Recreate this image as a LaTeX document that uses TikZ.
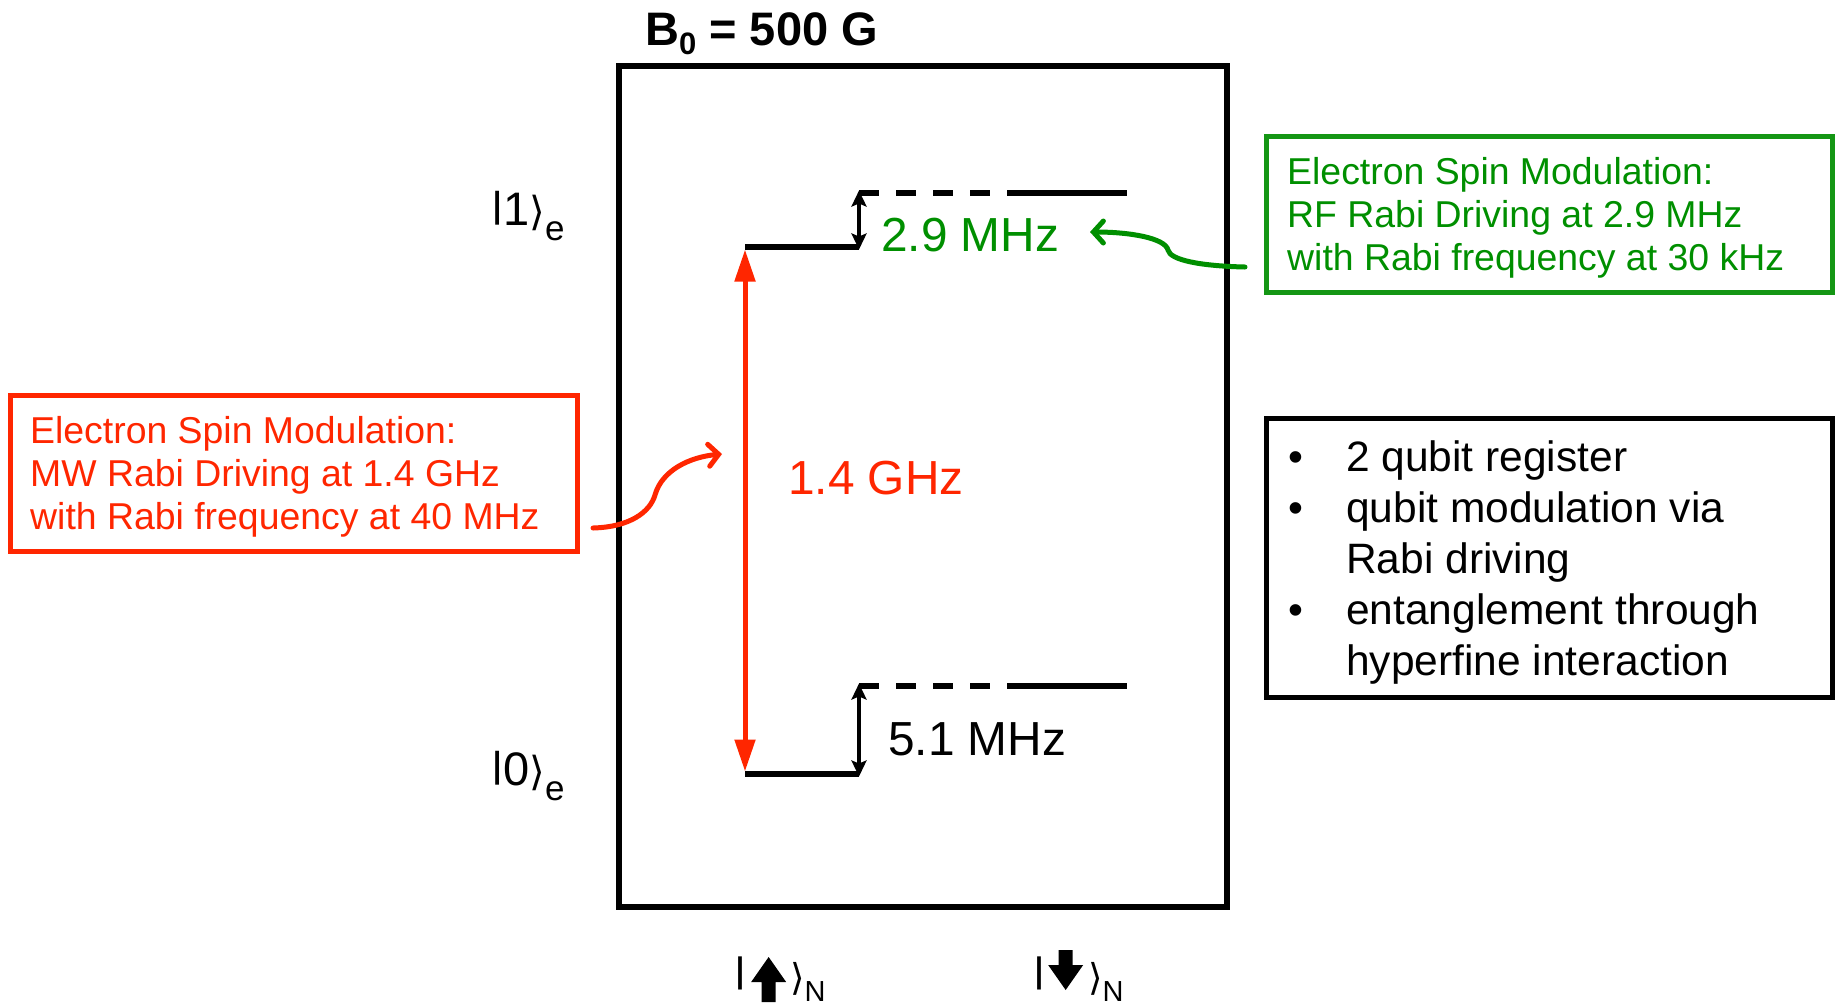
\documentclass[tikz,border=0pt]{standalone}
\usepackage{fontspec}
\setmainfont{Liberation Sans}
\newfontfamily\djv{DejaVu Sans}
\usetikzlibrary{arrows.meta,shadows}
\definecolor{myred}{RGB}{255,38,0}
\definecolor{mygreen}{RGB}{0,143,0}
\definecolor{boxgreen}{RGB}{20,150,20}
\newcommand\fatuparrow{\tikz[baseline=0pt,x=1pt,y=1pt]\fill (10.5,-12) -- (24.5,-12) -- (24.5,8) -- (35,8) -- (17.5,33) -- (0,8) -- (10.5,8) -- cycle;}
\newcommand\fatdownarrow{\tikz[baseline=0pt,x=1pt,y=1pt]\fill (10.5,40) -- (24.5,40) -- (24.5,25) -- (35,25) -- (17.5,0) -- (0,25) -- (10.5,25) -- cycle;}
\newcommand\ketbar{\raisebox{0.16em}{\scalebox{1}[0.77]{|}}}
\begin{document}
\begin{tikzpicture}[x=1pt,y=-1pt,
  lvl/.style={line width=5.5pt},
  lvldash/.style={line width=5.5pt, dash pattern=on 20pt off 17pt},
  boxtxt/.style={anchor=base west, inner sep=0pt, font=\fontsize{37.4}{43}\selectfont},
  listtxt/.style={anchor=base west, inner sep=0pt, font=\fontsize{42.5}{50}\selectfont},
  freqtxt/.style={anchor=base west, inner sep=0pt, font=\fontsize{47.8}{47.8}\selectfont},
  kettxt/.style={anchor=base west, inner sep=0pt, font=\fontsize{47}{47}\selectfont},
  infobox/.style={draw, line width=5pt, inner sep=0pt},
  smallarr/.style={line width=3.5pt, {Stealth[width=15pt,length=16pt,inset=3pt]}-{Stealth[width=15pt,length=16pt,inset=3pt]}},
  bigarr/.style={line width=5pt, myred, {Triangle[width=20pt,length=32pt]}-{Triangle[width=20pt,length=32pt]}},
  curvearr/.style={line width=5pt, line cap=round, -{Straight Barb[length=10pt,width=22pt,line cap=round]}}
]
\useasboundingbox (0,0) rectangle (1838,1005);

% title
\node[anchor=base west, inner sep=0pt, font=\bfseries\fontsize{47}{47}\selectfont] (title) at (645,45) {B\raisebox{-9pt}{\fontsize{31}{31}\selectfont 0} = 500 G};

% main frame
\node[draw, line width=6pt, minimum width=608pt, minimum height=841pt, inner sep=0pt,
  drop shadow={opacity=0.25, shadow xshift=2pt, shadow yshift=-3pt}, fill=white] (frame) at (923,486.5) {};

% electron state labels
\node[kettxt] (k1) at (491,225) {\ketbar 1{\djv\fontsize{40}{40}\selectfont ⟩}\raisebox{-15pt}{\fontsize{35}{35}\selectfont e}};
\node[kettxt] (k0) at (491,785) {\ketbar 0{\djv\fontsize{40}{40}\selectfont ⟩}\raisebox{-15pt}{\fontsize{35}{35}\selectfont e}};

% nuclear state labels
\node[kettxt, font=\fontsize{46}{46}\selectfont] (nup) at (734,990) {\ketbar\hspace{5pt}\fatuparrow\hspace{4pt}{\djv\fontsize{37}{37}\selectfont ⟩}\raisebox{-11pt}{\fontsize{29}{29}\selectfont N}};
\node[kettxt, font=\fontsize{46}{46}\selectfont] (ndn) at (1033,990) {\ketbar\hspace{3pt}\fatdownarrow\hspace{5pt}{\djv\fontsize{37}{37}\selectfont ⟩}\raisebox{-11pt}{\fontsize{29}{29}\selectfont N}};

% level coordinates
\coordinate (u1) at (745,247);
\coordinate (u2) at (859,247);
\coordinate (u3) at (859,193);
\coordinate (u4) at (1008,193);
\coordinate (u5) at (1127,193);
\coordinate (l1) at (745,774);
\coordinate (l2) at (859,774);
\coordinate (l3) at (859,686);
\coordinate (l4) at (1008,686);
\coordinate (l5) at (1127,686);

% upper levels
\draw[lvl] (u1) -- (u2);
\draw[lvldash] (u3) -- (u4);
\draw[lvl] (u4) -- (u5);
% lower levels
\draw[lvl] (l1) -- (l2);
\draw[lvldash] (l3) -- (l4);
\draw[lvl] (l4) -- (l5);

% splitting arrows
\draw[smallarr] ([yshift=-2.5pt]u2) -- ([yshift=2.5pt]u3);
\draw[smallarr] ([yshift=-2.5pt]l2) -- ([yshift=2.5pt]l3);
\draw[bigarr] ([yshift=-2.5pt]u1) -- ([yshift=2.5pt]l1);

% frequency labels
\node[freqtxt, text=mygreen] (f29) at (881,251) {2.9 MHz};
\node[freqtxt] (f51) at (888,755) {5.1 MHz};
\node[freqtxt, text=myred] (f14) at (788,494) {1.4 GHz};

% red info box
\node[infobox, draw=myred, minimum width=567pt, minimum height=156pt] (redbox) at (294,473) {};
\node[boxtxt, text=myred] (r1) at (30,443) {Electron Spin Modulation:};
\node[boxtxt, text=myred] (r2) at (30,486) {MW Rabi Driving at 1.4 GHz};
\node[boxtxt, text=myred] (r3) at (30,529.5) {with Rabi frequency at 40 MHz};

% green info box
\node[infobox, draw=boxgreen, minimum width=566pt, minimum height=156pt] (greenbox) at (1549,214) {};
\node[boxtxt, text=mygreen] (g1) at (1287,184) {Electron Spin Modulation:};
\node[boxtxt, text=mygreen] (g2) at (1287,227) {RF Rabi Driving at 2.9 MHz};
\node[boxtxt, text=mygreen] (g3) at (1287,270.5) {with Rabi frequency at 30 kHz};

% black info box
\node[infobox, minimum width=566pt, minimum height=279pt] (blackbox) at (1549,557.5) {};
\node[listtxt] (b1) at (1288,471) {•};
\node[listtxt] (t1) at (1346,471) {2 qubit register};
\node[listtxt] (b2) at (1288,522) {•};
\node[listtxt] (t2) at (1346,522) {qubit modulation via};
\node[listtxt] (t3) at (1346,573) {Rabi driving};
\node[listtxt] (b4) at (1288,624) {•};
\node[listtxt] (t4) at (1346,624) {entanglement through};
\node[listtxt] (t5) at (1346,675) {hyperfine interaction};

% curved pointer arrows
\coordinate (rs) at (593,528);
\coordinate (re) at (722,454);
\draw[curvearr, myred] (rs) .. controls (630,527) and (650,512) .. (655,495)
  .. controls (662,470) and (690,457) .. (re);
\coordinate (gs) at (1245,267);
\coordinate (ge) at (1090,232);
\draw[curvearr, mygreen] (gs) .. controls (1200,266) and (1170,260) .. (1168,250)
  .. controls (1165,238) and (1130,232) .. (ge);
\end{tikzpicture}
\end{document}
